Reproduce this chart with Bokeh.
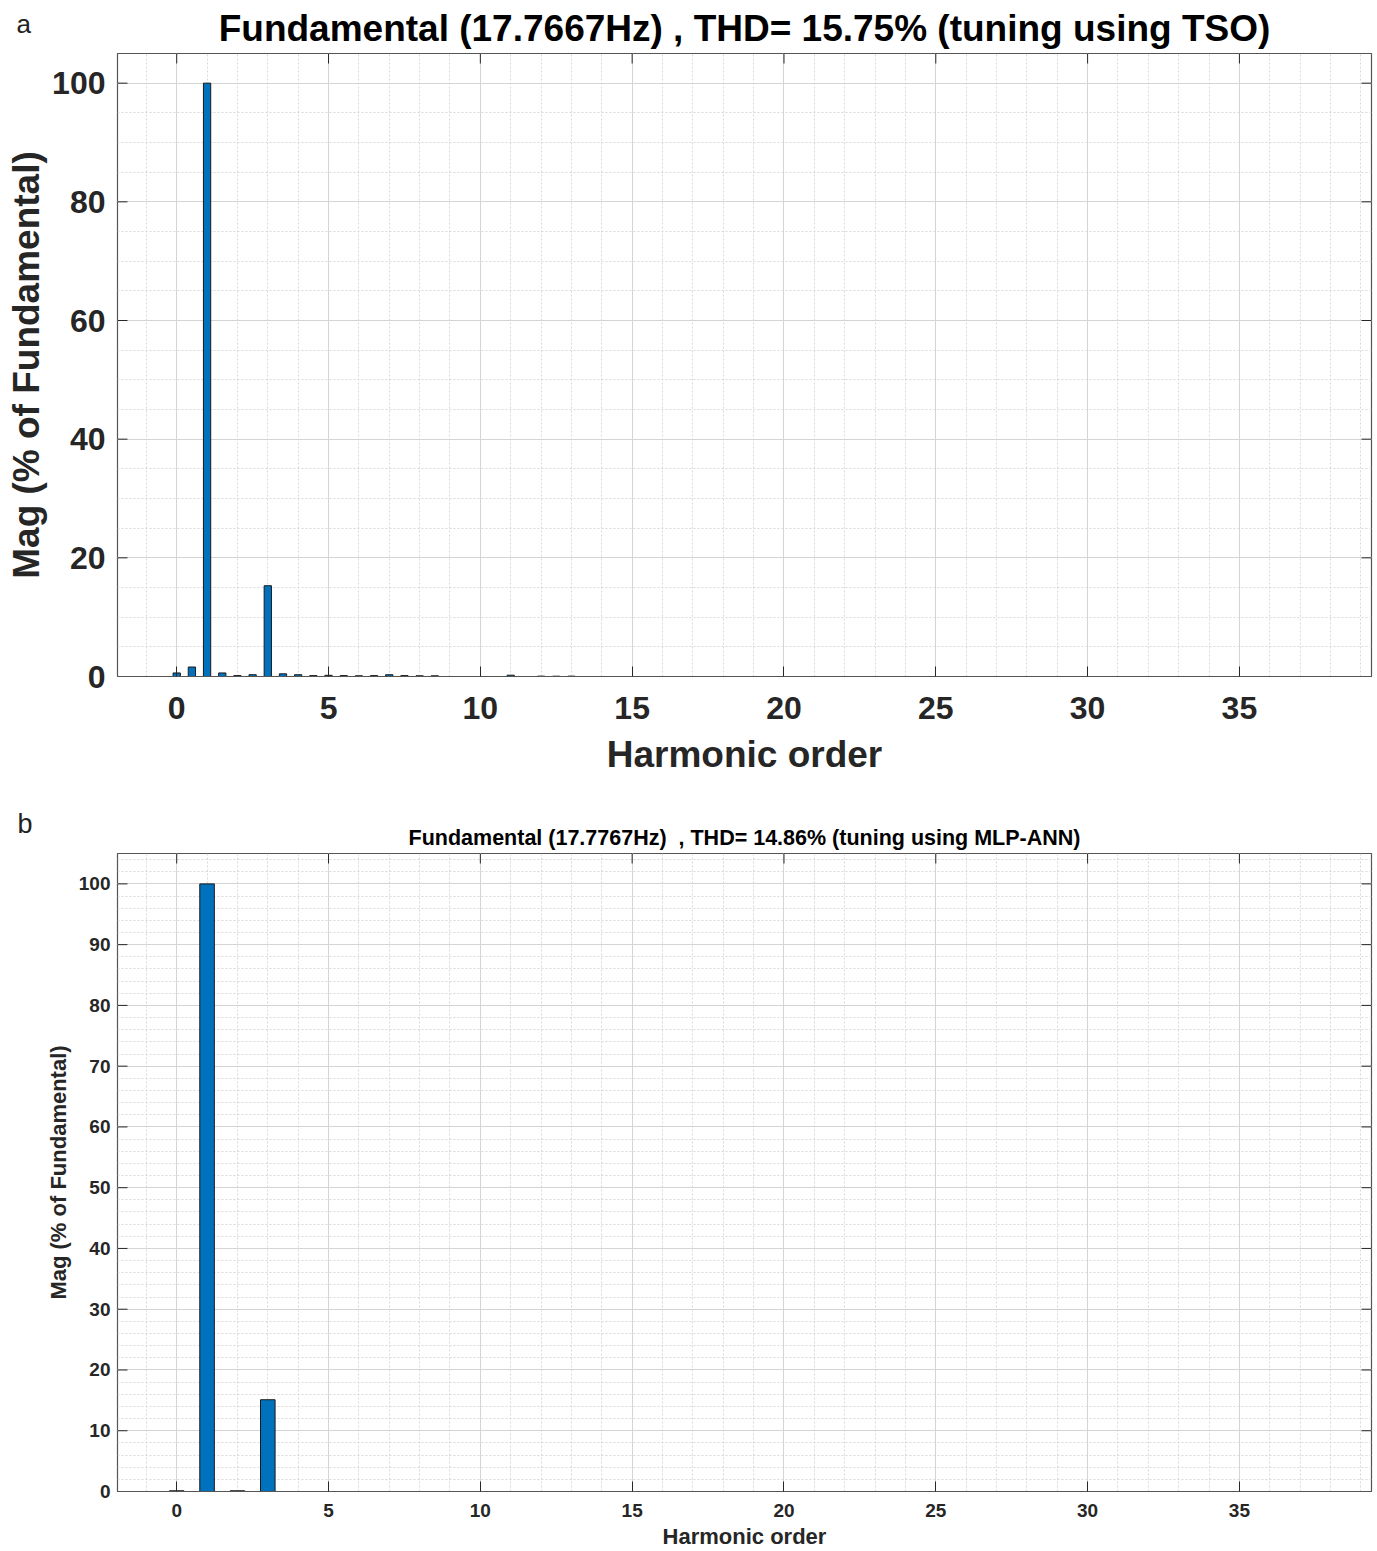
from bokeh.plotting import figure
from bokeh.models import Range1d, FixedTicker, Label
from bokeh.layouts import column
from bokeh.embed import file_html
from bokeh.resources import INLINE

# ---- data ----
tso_orders = [0, 0.5, 1, 1.5, 2, 2.5, 3, 3.5, 4, 4.5, 5, 5.5, 6, 6.5, 7, 7.5, 8, 8.5, 11, 12, 12.5, 13]
tso_mag = [0.6, 1.6, 100, 0.6, 0.15, 0.3, 15.3, 0.45, 0.3, 0.15, 0.2, 0.15, 0.12, 0.15, 0.3, 0.15, 0.12, 0.12, 0.22, 0.06, 0.05, 0.06]
ann_orders = [0, 1, 2, 3]
ann_mag = [0.12, 100, 0.12, 15.1]

x_ticks = [0, 5, 10, 15, 20, 25, 30, 35]
y_ticks_a = [0, 20, 40, 60, 80, 100]
y_ticks_b = [0, 10, 20, 30, 40, 50, 60, 70, 80, 90, 100]

title_a = "Fundamental (17.7667Hz) , THD= 15.75% (tuning using TSO)"
title_b = "Fundamental (17.7767Hz)\u00a0 , THD= 14.86% (tuning using MLP-ANN)"
xlabel = "Harmonic order"
ylabel = "Mag (% of Fundamental)"

FONT = "Liberation Sans"
BAR = "#0072BD"
AX = "#262626"
X0, X1, Y0, Y1 = -1.95, 39.35, 0, 105
TICK = 10  # px


def make_panel(width, height, borders, orders, mags, bar_w, yticks, yminor, tick_fs, lab_fs,
               title, title_fs, title_standoff, panel_letter, letter_xy, letter_w,
               tick_standoff, ylab_standoff, xlab_standoff, x_standoff):
    left, right, top, bottom = borders
    p = figure(width=width, height=height, output_backend="svg", toolbar_location=None,
               x_range=Range1d(X0, X1), y_range=Range1d(Y0, Y1),
               min_border_left=left, min_border_right=right,
               min_border_top=top, min_border_bottom=bottom,
               background_fill_color="white", border_fill_color="white")
    p.title.text = title
    p.title.text_font = FONT
    p.title.text_font_size = f"{title_fs}px"
    p.title.text_font_style = "bold"
    p.title.text_color = "black"
    p.title.align = "center"
    p.title.standoff = title_standoff

    p.vbar(x=orders, top=mags, width=bar_w, fill_color=BAR, line_color="#1a1a1a", line_width=1)

    # grid
    p.xgrid.ticker = FixedTicker(ticks=x_ticks, minor_ticks=list(range(-1, 40)))
    p.ygrid.ticker = FixedTicker(ticks=yticks, minor_ticks=yminor)
    for g in (p.xgrid, p.ygrid):
        g.grid_line_color = "#d4d4d4"
        g.grid_line_width = 1
        g.minor_grid_line_color = "#d9d9d9"
        g.minor_grid_line_dash = "2 2"
        g.minor_grid_line_width = 1

    p.outline_line_color = "#555555"
    p.outline_line_width = 1.2

    xa = p.xaxis[0]
    ya = p.yaxis[0]
    xa.ticker = FixedTicker(ticks=x_ticks)
    ya.ticker = FixedTicker(ticks=yticks)
    for ax in (xa, ya):
        ax.axis_line_color = "#555555"
        ax.axis_line_width = 1.2
        ax.major_tick_in = TICK
        ax.major_tick_out = 0
        ax.major_tick_line_color = AX
        ax.minor_tick_line_color = None
        ax.major_label_text_font = FONT
        ax.major_label_text_font_size = f"{tick_fs}px"
        ax.major_label_text_font_style = "bold"
        ax.major_label_text_color = AX
        ax.axis_label_text_font = FONT
        ax.axis_label_text_font_size = f"{lab_fs}px"
        ax.axis_label_text_font_style = "bold"
        ax.axis_label_text_color = AX
    xa.axis_label = xlabel
    ya.axis_label = ylabel
    xa.major_label_standoff = x_standoff
    xa.axis_label_standoff = xlab_standoff
    # the y axis sits outside the letter panel, so its line/ticks are drawn as segments
    ya.axis_line_color = None
    ya.major_tick_line_color = None
    ya.major_label_standoff = tick_standoff - letter_w
    ya.axis_label_standoff = ylab_standoff

    # inward ticks on top, left and right edges (MATLAB box style)
    fw = width - left - right
    fh = height - top - bottom
    dy = TICK * (Y1 - Y0) / fh
    dx = TICK * (X1 - X0) / fw
    p.segment(x0=x_ticks, y0=[Y1] * len(x_ticks), x1=x_ticks, y1=[Y1 - dy] * len(x_ticks),
              line_color=AX, line_width=1)
    p.segment(x0=[X1] * len(yticks), y0=yticks, x1=[X1 - dx] * len(yticks), y1=yticks,
              line_color=AX, line_width=1)
    p.segment(x0=[X0] * len(yticks), y0=yticks, x1=[X0 + dx] * len(yticks), y1=yticks,
              line_color=AX, line_width=1)

    # panel letter in an (unclipped) side panel next to the frame
    lx, ly, lfs = letter_xy
    lab = Label(x=lx, y=ly, x_units="screen", y_units="screen", text=panel_letter,
                text_font=FONT, text_font_size=f"{lfs}px", text_color="#222222",
                text_baseline="alphabetic", text_align="left")
    p.left = [lab] + list(p.left)
    return p


pa = make_panel(1377, 790, (117, 4, 53, 114), tso_orders, tso_mag, 0.24,
                y_ticks_a, list(range(0, 106, 5)), 32, 37,
                title_a, 37, 9, "a", (-87, 653, 26), 14, 12, 2, 12, 20)

pb = make_panel(1377, 761, (115, 6, 63, 60), ann_orders, ann_mag, 0.48,
                y_ticks_b, list(range(0, 106, 2)), 19, 22,
                title_b, 21.5, 8, "b", (-85, 668, 27), 16, 8, 5, 4, 12)

layout = column(pa, pb, spacing=0)
open("out.html", "w").write(file_html(layout, INLINE))
